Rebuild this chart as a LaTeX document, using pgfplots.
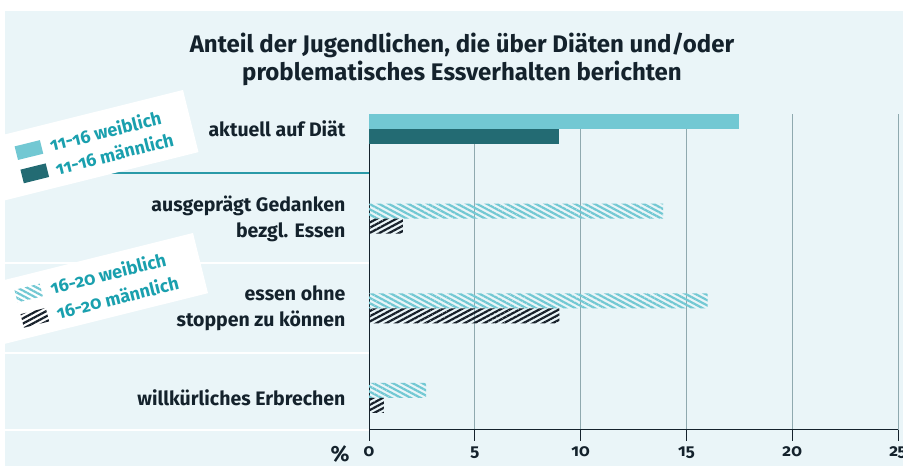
\documentclass[border=0pt]{standalone}
\usepackage{fontspec}
\setmainfont{Fira Sans}[Numbers=OldStyle, RawFeature=+onum]
\usepackage{pgfplots}
\pgfplotsset{compat=1.18}
\usetikzlibrary{patterns.meta}

\definecolor{bgpanel}{HTML}{EAF5F8}
\definecolor{lightbar}{HTML}{72C8D3}
\definecolor{darkbar}{HTML}{236B73}
\definecolor{hatchdark}{HTML}{17202A}
\definecolor{gridc}{HTML}{8FA9AF}
\definecolor{legtext}{HTML}{1AA0AE}
\definecolor{labeltext}{HTML}{14222C}
\definecolor{sepline}{HTML}{2A9AA8}

\begin{document}
\begin{tikzpicture}[x=1pt,y=1pt]
\useasboundingbox (0,0) rectangle (903,466);
\fill[white] (0,0) rectangle (903,466);
\fill[bgpanel] (5,0) rectangle (903,455);

% separators between the categories
\draw[sepline, line width=1.2pt] (5,293) -- (369,293);
\draw[white, line width=1.5pt] (5,203) -- (369,203);
\draw[white, line width=1.5pt] (5,113) -- (369,113);
\draw[white, line width=1.5pt] (5,36) -- (369,36);

\begin{axis}[
    at={(369pt,36pt)}, anchor=south west,
    scale only axis,
    width=529pt, height=316pt,
    xmin=0, xmax=25,
    ymin=-0.357, ymax=3.167,
    axis lines*=left,
    axis line style={labeltext, line width=1pt},
    xtick={0,5,...,25},
    xmajorgrids,
    grid style={gridc, line width=0.9pt},
    tick align=outside,
    major tick length=11pt,
    xtick style={labeltext, line width=1pt},
    ytick style={draw=none},
    /pgf/number format/assume math mode=true,
    xticklabel style={font=\bfseries\fontsize{17}{17}\selectfont, text=labeltext, yshift=-2pt},
    ytick={0,1,2,3},
    yticklabels={willkürliches Erbrechen, {essen ohne\\stoppen zu können}, {ausgeprägt Gedanken\\bezgl. Essen}, aktuell auf Diät},
    yticklabel style={align=right, font=\bfseries\fontsize{19.5}{26}\selectfont, text=labeltext, xshift=-9pt},
    clip=false,
]
% 11-16 (solid)
\addplot[xbar, bar width=15pt, bar shift=7.5pt, fill=lightbar, draw=none] coordinates {(17.5,3)};
\addplot[xbar, bar width=15pt, bar shift=-7.5pt, fill=darkbar, draw=none] coordinates {(9.0,3)};
% 16-20 (hatched)
\addplot[xbar, bar width=15pt, bar shift=7.5pt, draw=none,
    pattern={Lines[angle=-28, distance=4.6pt, line width=2.2pt]}, pattern color=lightbar]
    coordinates {(13.9,2) (16.0,1) (2.7,0)};
\addplot[xbar, bar width=15pt, bar shift=-7.5pt, draw=none,
    pattern={Lines[angle=28, distance=4.6pt, line width=2.2pt]}, pattern color=hatchdark]
    coordinates {(1.6,2) (9.0,1) (0.7,0)};
\end{axis}

% percent sign
\node[font=\bfseries\fontsize{22}{22}\selectfont, text=labeltext] at (340,12) {\%};

% title
\node[align=center, text=labeltext, font=\bfseries\fontsize{24}{28}\selectfont] at (462,407)
    {Anteil der Jugendlichen, die über Diäten und/oder\\problematisches Essverhalten berichten};

% legend 11-16
\begin{scope}[shift={(183,376)}, rotate=14, transform shape]
\fill[white] (-260,0) rectangle (0,-64);
\fill[lightbar] (-177,-28) rectangle (-151,-14);
\fill[darkbar] (-177,-52) rectangle (-151,-38);
\node[anchor=west, text=legtext, font=\bfseries\fontsize{18}{18}\selectfont] at (-146,-21) {11-16 weiblich};
\node[anchor=west, text=legtext, font=\bfseries\fontsize{18}{18}\selectfont] at (-146,-45) {11-16 männlich};
\end{scope}

% legend 16-20
\begin{scope}[shift={(193,233)}, rotate=14, transform shape]
\fill[white] (-270,0) rectangle (0,-62);
\fill[pattern={Lines[angle=-28, distance=4.6pt, line width=2.2pt]}, pattern color=lightbar] (-187,-25) rectangle (-161,-12);
\fill[pattern={Lines[angle=28, distance=4.6pt, line width=2.2pt]}, pattern color=hatchdark] (-187,-51) rectangle (-161,-37);
\node[anchor=west, text=legtext, font=\bfseries\fontsize{18}{18}\selectfont] at (-155,-18.5) {16-20 weiblich};
\node[anchor=west, text=legtext, font=\bfseries\fontsize{18}{18}\selectfont] at (-155,-44) {16-20 männlich};
\end{scope}
\end{tikzpicture}
\end{document}
